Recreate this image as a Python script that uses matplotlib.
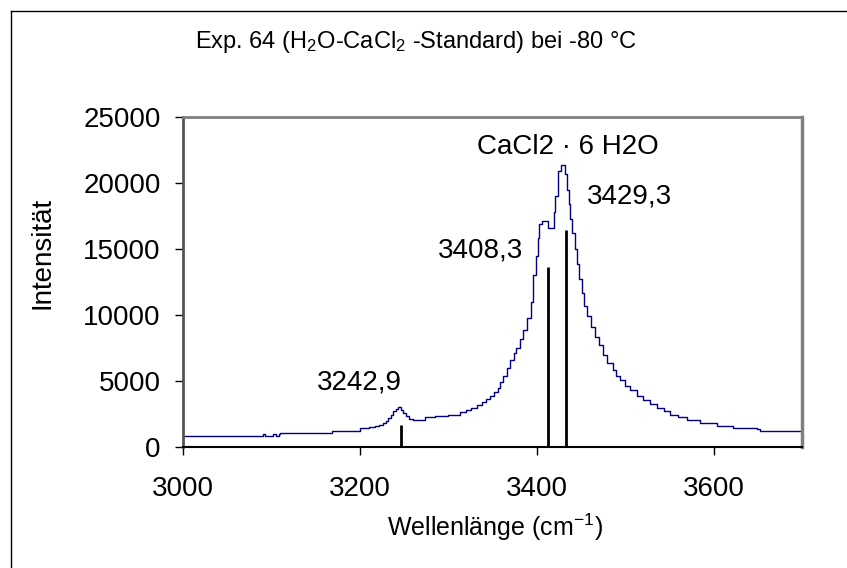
import numpy as np
import matplotlib
matplotlib.use("Agg")
import matplotlib.pyplot as plt
from matplotlib.lines import Line2D

plt.rcParams['font.family'] = ['Liberation Sans', 'DejaVu Sans']
plt.rcParams['mathtext.fontset'] = 'custom'
plt.rcParams['mathtext.rm'] = 'Liberation Sans'
plt.rcParams['mathtext.it'] = 'Liberation Sans'

# spectrum, step-like trace
wavenumber = [3000, 3088, 3090, 3093, 3102, 3105, 3108, 3110, 3168, 3200,
              3210, 3217, 3222, 3226, 3230, 3232, 3235, 3238, 3241, 3243,
              3246, 3249, 3252, 3256, 3260, 3274, 3285, 3300, 3313, 3320,
              3326, 3332, 3338, 3343, 3347, 3352, 3356, 3359, 3362, 3366,
              3370, 3374, 3377, 3381, 3385, 3389, 3393, 3396, 3399, 3401,
              3403, 3406, 3410, 3413, 3416, 3419, 3421, 3424, 3427, 3430,
              3432, 3434, 3436, 3438, 3440, 3443, 3445, 3448, 3451, 3454,
              3457, 3461, 3466, 3470, 3475, 3480, 3486, 3490, 3494, 3500,
              3506, 3513, 3520, 3528, 3536, 3544, 3551, 3560, 3570, 3585,
              3604, 3622, 3649, 3653, 3700]
intensity = [800, 800, 1000, 830, 1000, 850, 1000, 1040, 1240, 1420,
             1500, 1600, 1700, 1800, 2000, 2200, 2450, 2700, 2900, 3050,
             2800, 2550, 2350, 2150, 2050, 2250, 2350, 2450, 2650, 2800,
             2950, 3150, 3400, 3600, 3850, 4150, 4500, 4900, 5400, 6000,
             6600, 7100, 7500, 8200, 8900, 9800, 11000, 13000, 14500, 15800,
             16900, 17100, 17100, 16600, 16600, 17800, 19000, 20900, 21400, 21400,
             20700, 19500, 18400, 17300, 16200, 15000, 13900, 12700, 11700, 10700,
             9900, 9100, 8300, 7700, 7000, 6400, 5800, 5400, 5100, 4650,
             4300, 3900, 3550, 3250, 2950, 2700, 2450, 2250, 2050, 1800,
             1600, 1450, 1400, 1200, 1200]

# fitted band positions (sticks) and their labels
stick_pos = [3247, 3412.6, 3433]
stick_height = [1650, 13660, 16440]
stick_labels = ["3242,9", "3408,3", "3429,3"]
label_pos = [(3200, 4850), (3336, 14920), (3505, 19015)]

fig = plt.figure(figsize=(8.47, 5.68), dpi=100)
ax = fig.add_axes([183 / 847, 121 / 568, 619 / 847, 330 / 568])

ax.plot(wavenumber, intensity, drawstyle='steps-post', color='#000080', lw=1)
ax.vlines(stick_pos, 0, stick_height, color='black', lw=2)

for txt, (x, y) in zip(stick_labels, label_pos):
    ax.text(x, y, txt, fontsize=20, ha='center', va='center')
ax.text(3435.5, 22730, "CaCl2 · 6 H2O", fontsize=20, ha='center', va='center')

ax.set_xlim(3000, 3700)
ax.set_ylim(0, 25000)
ax.set_xticks([3000, 3200, 3400, 3600])
ax.set_yticks([0, 5000, 10000, 15000, 20000, 25000])
ax.tick_params(axis='both', labelsize=20, length=6, width=1, color='black')
ax.tick_params(axis='x', pad=15)
ax.tick_params(axis='y', pad=10)

ax.spines['top'].set_color('#808080')
ax.spines['top'].set_linewidth(2)
ax.spines['right'].set_color('#808080')
ax.spines['right'].set_linewidth(2.5)
ax.spines['left'].set_color('#555555')
ax.spines['left'].set_linewidth(2)
ax.spines['bottom'].set_color('black')
ax.spines['bottom'].set_linewidth(1.5)

fig.text(416 / 847, 1 - 42 / 568, r"Exp. 64 (H$_2$O-CaCl$_2$ -Standard) bei -80 °C",
         fontsize=17, ha='center', va='center')
fig.text(42 / 847, 1 - 253 / 568, "Intensität", fontsize=20, rotation=90,
         ha='center', va='center')
fig.text(495 / 847, 1 - 527 / 568, r"Wellenlänge (cm$^{-1}$)", fontsize=18,
         ha='center', va='center')

# frame lines on the left and top of the picture
fig.add_artist(Line2D([11 / 847, 11 / 847], [0, 1 - 11 / 568], color='black', lw=1))
fig.add_artist(Line2D([11 / 847, 1], [1 - 11 / 568, 1 - 11 / 568], color='black', lw=1))

fig.savefig("out.png", dpi=100)
